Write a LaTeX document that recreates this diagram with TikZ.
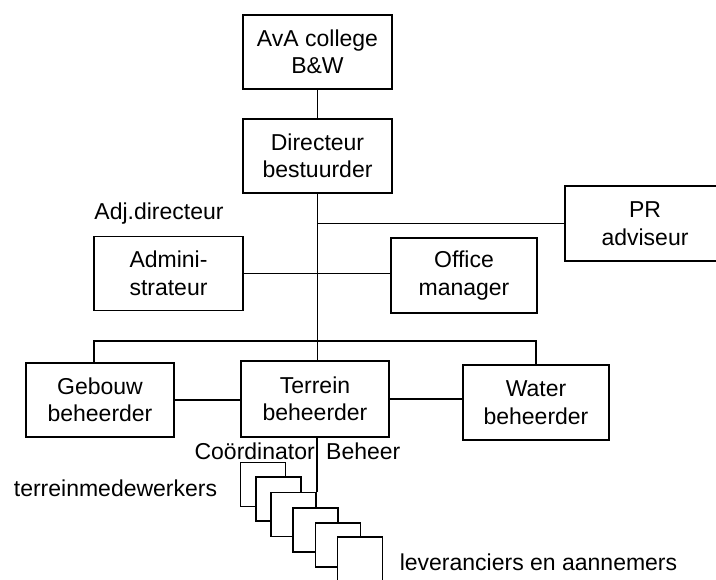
\documentclass[tikz,border=0pt]{standalone}
\usepackage{fontspec}
\setmainfont{Liberation Sans}
\begin{document}
\begin{tikzpicture}[x=1pt,y=-1pt,
  txt/.style={font=\fontsize{23}{27.5}\selectfont},
  box/.style={txt, draw, line width=1.5pt, fill=white, align=center, inner sep=0pt},
  lbl/.style={txt, inner sep=0pt},
  conn/.style={line width=1.5pt},
  stackbox/.style={draw, line width=1.5pt, fill=white, inner sep=0pt, minimum width=45pt, minimum height=44pt}]
\useasboundingbox (0,0) rectangle (716,580);
\clip (0,0) rectangle (716,580);

% boxes
\node[box, minimum width=149pt, minimum height=74pt] (ava) at (317.5,52) {AvA college\\B\&W};
\node[box, minimum width=149pt, minimum height=74pt] (dir) at (317.5,156) {Directeur\\bestuurder};
\node[box, minimum width=160pt, minimum height=75pt] (pr) at (645,223.5) {PR\\adviseur};
\node[lbl] (adj) at (159,214) {Adj.directeur};
\node[box, minimum width=149pt, minimum height=74pt] (admin) at (168.5,273.5) {Admini-\\strateur};
\node[box, minimum width=146pt, minimum height=75pt] (office) at (464,275.5) {Office\\manager};
\node[box, minimum width=148pt, minimum height=74pt] (gebouw) at (100,400) {Gebouw\\beheerder};
\node[box, minimum width=148pt, minimum height=76pt] (terrein) at (315,399) {Terrein\\beheerder};
\node[box, minimum width=146pt, minimum height=75pt] (water) at (536,402.5) {Water\\beheerder};

% connectors
\coordinate (busL) at (94,341);
\coordinate (busR) at (536,341);
\draw[conn] (ava.south) -- (dir.north);
\draw[conn] (dir.south) -- (dir.south |- terrein.north);
\draw[conn] (dir.south |- pr.west) -- (pr.west);
\draw[conn] (admin.east) -- (admin.east -| office.west);
\draw[conn] (gebouw.north -| busL) -- (busL) -- (busR) -- (water.north);
\draw[conn] (gebouw.east) -- (gebouw.east -| terrein.west);
\draw[conn] (terrein.east) -- (terrein.east -| water.west);

% labels
\node[lbl] (coord) at (297.5,451) {Coördinator\hspace{0.5em}Beheer};
\node[lbl] (medew) at (115.5,488) {terreinmedewerkers};
\node[lbl] (lever) at (538.5,562) {leveranciers en aannemers};

% stacked boxes
\node[stackbox] (s1) at (263,484.5) {};
\node[stackbox] (s2) at (278.5,499) {};
\node[stackbox] (s3) at (293.5,514.5) {};
\node[stackbox] (s4) at (315.5,530) {};
\node[stackbox] (s5) at (338,545) {};
\node[stackbox, minimum height=60pt] (s6) at (360,567) {};
\draw[conn] (terrein.south -| s3.north east) -- (s3.north east);
\end{tikzpicture}
\end{document}
